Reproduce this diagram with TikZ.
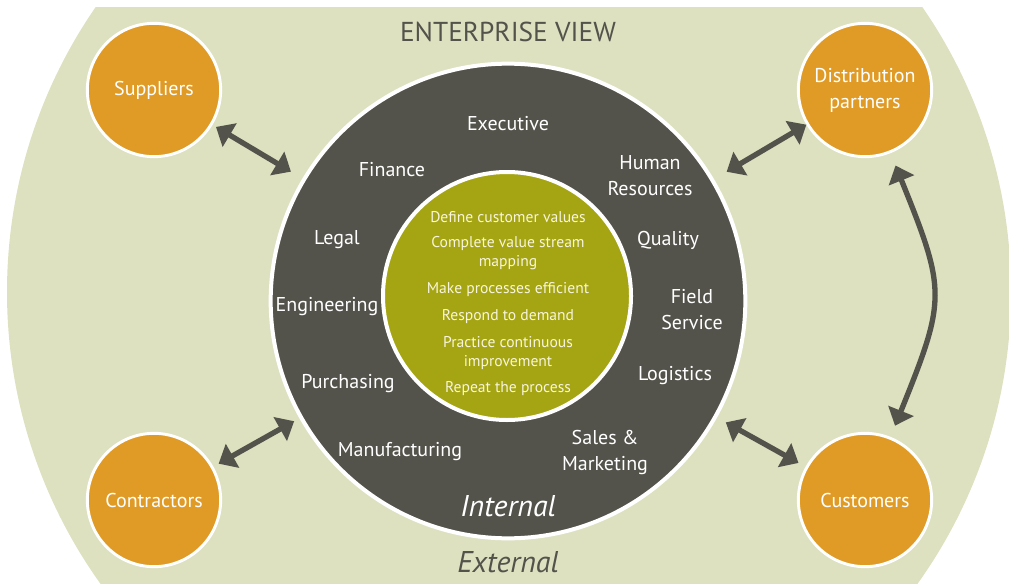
\documentclass[tikz,border=0pt]{standalone}
\usepackage{fontspec}
\setmainfont{PT Sans}
\usetikzlibrary{arrows.meta}

\definecolor{sage}{HTML}{DDE1C0}
\definecolor{slate}{HTML}{54534B}
\definecolor{leanolive}{HTML}{A5A513}
\definecolor{amber}{HTML}{E09B27}
\definecolor{cream}{HTML}{F8F5DC}

\begin{document}
\begin{tikzpicture}[x=0.75pt, y=0.75pt,
    party/.style={circle, draw=white, line width=2.2pt, fill=amber, minimum size=100pt,
      inner sep=0pt, text=white, align=center, font=\fontsize{15}{19.5}\selectfont},
    dept/.style={text=white, align=center, font=\fontsize{15}{19.5}\selectfont},
    stepline/.style={text=cream, align=center, font=\fontsize{11.7}{14}\selectfont},
    link/.style={draw=slate, line width=4pt,
      {Triangle[length=12pt,width=20pt]}-{Triangle[length=12pt,width=20pt]}}]
    \useasboundingbox (0, 0) rectangle (1009, 583);
    \begin{scope}
      \clip (0, 0) rectangle (1009, 575);
      \fill[sage] (509, 291) circle (502);
    \end{scope}

    \node[circle, fill=slate, draw=white, line width=3pt, minimum size=356pt, inner sep=0pt] (ring) at (508, 282) {};
    \node[circle, fill=leanolive, draw=white, line width=3pt, minimum size=186pt, inner sep=0pt] (core) at (507, 287) {};

    \node[party] (sup) at (154, 493) {Suppliers};
    \node[party] (dist) at (865, 493) {Distribution\\partners};
    \node[party] (con) at (154, 83) {Contractors};
    \node[party] (cust) at (865, 83) {Customers};

    \draw[link, shorten <=3pt, shorten >=10pt] (sup) -- (ring);
    \draw[link, shorten <=0pt, shorten >=11pt] (dist) -- (ring);
    \draw[link, shorten <=4.5pt, shorten >=4.5pt] (con) -- (ring);
    \draw[link, shorten <=6pt, shorten >=7.5pt] (cust) -- (ring);
    \draw[link, shorten <=10pt, shorten >=9pt] (dist) to[out=-68, in=68, looseness=1.35] (cust);

    \node[text=slate, font=\fontsize{20.5}{24}\selectfont] (title) at (508, 551) {ENTERPRISE VIEW};

    % departments round the ring
    \node[dept] (exec) at (508, 459) {Executive};
    \node[dept] (fin) at (392, 413) {Finance};
    \node[dept] (hr) at (650, 407) {Human\\Resources};
    \node[dept] (legal) at (337, 343) {Legal};
    \node[dept] (qual) at (668, 343) {Quality};
    \node[dept] (eng) at (327, 276) {Engineering};
    \node[dept] (field) at (692, 273) {Field\\Service};
    \node[dept] (purch) at (348, 199) {Purchasing};
    \node[dept] (logi) at (675, 207) {Logistics};
    \node[dept] (manu) at (400, 131) {Manufacturing};
    \node[dept] (sales) at (605, 131) {Sales \&\\Marketing};

    % lean steps in the core
    \node[stepline] (s1) at (508, 366) {Define customer values};
    \node[stepline] (s2) at (508, 330) {Complete value stream\\mapping};
    \node[stepline] (s3) at (508, 293) {Make processes efficient};
    \node[stepline] (s4) at (508, 266) {Respond to demand};
    \node[stepline] (s5) at (508, 230) {Practice continuous\\improvement};
    \node[stepline] (s6) at (508, 194) {Repeat the process};

    \node[text=white, font=\fontsize{22.5}{26}\selectfont\itshape] (int) at (508, 77) {Internal};
    \node[text=slate, font=\fontsize{22.5}{26}\selectfont\itshape] (ext) at (508, 21) {External};
  \end{tikzpicture}
\end{document}
